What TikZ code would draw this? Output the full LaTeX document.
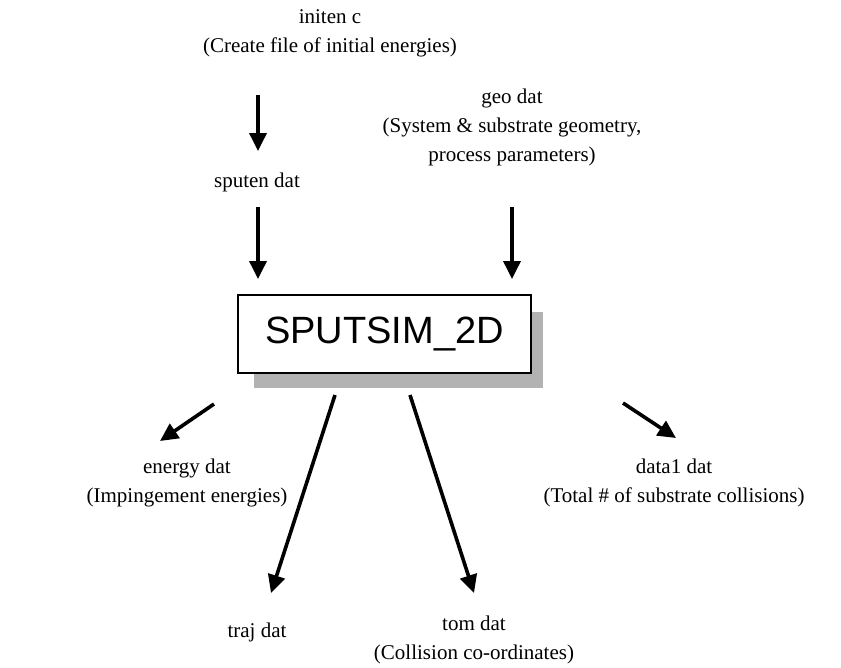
\documentclass[tikz,border=0pt]{standalone}
\usepackage{fontspec}
\setmainfont{Liberation Serif}
\newfontfamily\boxfont{Liberation Sans}
\usetikzlibrary{arrows.meta}
\begin{document}
\begin{tikzpicture}[x=1pt,y=-1pt,
  lbl/.style={align=center,font=\fontsize{21}{29}\selectfont,inner sep=0pt},
  arr/.style={line width=3.6pt,-{Triangle[length=18pt,width=17pt]}},
  mainbox/.style={draw,line width=1.8pt,fill=white,minimum width=293pt,minimum height=78pt,font=\boxfont\fontsize{38}{40}\selectfont,inner sep=0pt}]
\useasboundingbox (0,0) rectangle (841,667);
% labels
\node[lbl] (init) at (330,33) {initen c\\(Create file of initial energies)};
\node[lbl] (sput) at (257,182) {sputen dat};
\node[lbl] (geo) at (512,127) {geo dat\\(System \& substrate geometry,\\process parameters)};
\node[lbl] (energy) at (187,483) {energy dat\\(Impingement energies)};
\node[lbl] (traj) at (257,632) {traj dat};
\node[lbl] (tom) at (474,640) {tom dat\\(Collision co-ordinates)};
\node[lbl] (data) at (674,483) {data1 dat\\(Total \# of substrate collisions)};
% box with shadow
\fill[gray!60] (254,312) rectangle (543,388);
\node[mainbox] (sim) at (384.5,334) {SPUTSIM\_2D};
% connector ends
\coordinate (a1s) at (258,95);  \coordinate (a1e) at (258,151);
\coordinate (a2s) at (258,207); \coordinate (a2e) at (258,279);
\coordinate (a3s) at (512,207); \coordinate (a3e) at (512,279);
\coordinate (b1s) at (214,404); \coordinate (b1e) at (160,441);
\coordinate (b2s) at (335,395); \coordinate (b2e) at (271,593);
\coordinate (b3s) at (410,395); \coordinate (b3e) at (474,593);
\coordinate (b4s) at (623,403); \coordinate (b4e) at (676,438);
\draw[arr] (a1s) -- (a1e);
\draw[arr] (a2s) -- (a2e);
\draw[arr] (a3s) -- (a3e);
\draw[arr] (b1s) -- (b1e);
\draw[arr] (b2s) -- (b2e);
\draw[arr] (b3s) -- (b3e);
\draw[arr] (b4s) -- (b4e);
\end{tikzpicture}
\end{document}
